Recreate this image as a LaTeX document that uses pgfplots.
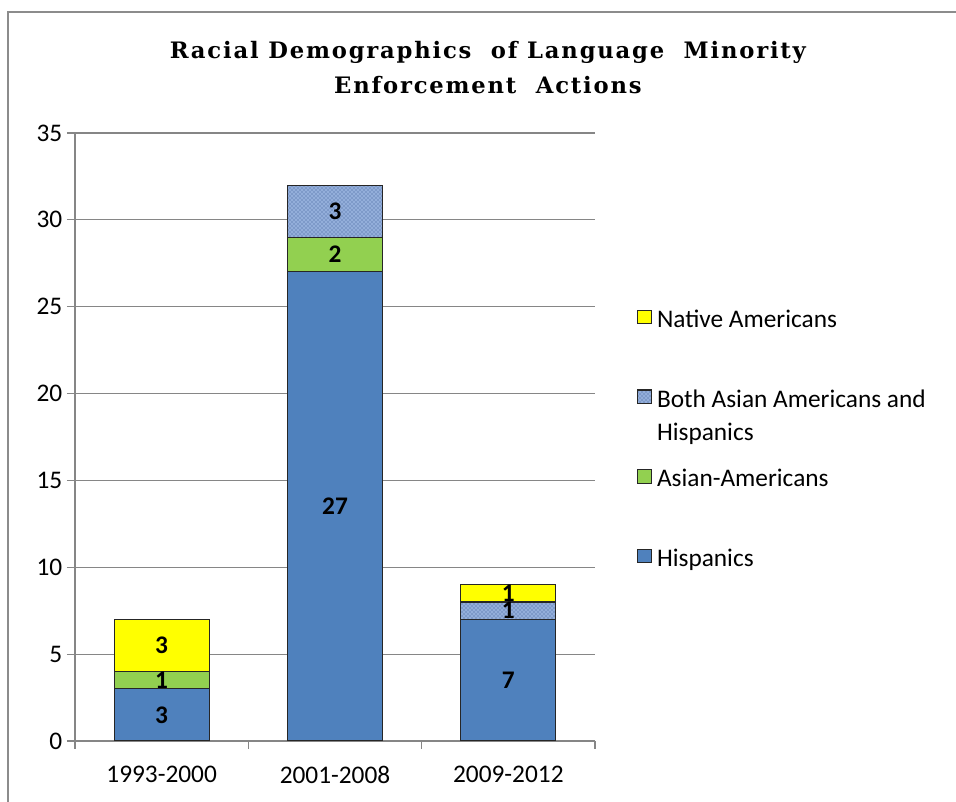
\documentclass[border=0pt]{standalone}
\usepackage{fontspec}
\setmainfont{Carlito}
\newfontfamily\titlefont[LetterSpace=8]{DejaVu Serif}
\usepackage{pgfplots}
\pgfplotsset{compat=1.18}
\usetikzlibrary{patterns}

\definecolor{hisp}{HTML}{4F81BD}
\definecolor{asian}{HTML}{92D050}
\definecolor{both}{HTML}{93AEDA}
\definecolor{bothdark}{HTML}{3A5A94}
\definecolor{native}{HTML}{FFFF00}
\definecolor{gridgray}{HTML}{868686}
\definecolor{framegray}{HTML}{8C8C8C}

\begin{document}
\begin{tikzpicture}
% page size: 956x802 px at 0.75pt per px, origin = lower left of plot area
\useasboundingbox (-56.25pt,-45.75pt) rectangle (660.75pt,555.75pt);
\draw[framegray, line width=1pt] (-50.25pt,-46pt) -- (-50.25pt,546.75pt) -- (661pt,546.75pt);

\begin{axis}[
  scale only axis,
  width=390pt, height=456pt,
  ybar stacked, bar width=71.25pt,
  xmin=-0.5, xmax=2.5, ymin=0, ymax=35,
  ytick={0,5,...,35},
  xtick={-0.5,0.5,1.5,2.5}, xticklabels={},
  extra x ticks={0,1,2},
  extra x tick labels={1993-2000,2001-2008,2009-2012},
  extra x tick style={major tick length=0pt, tick label style={yshift=-15.5pt}},
  axis x line*=bottom, axis y line*=left,
  tick align=outside, major tick length=6pt,
  axis line style={gridgray, line width=0.8pt},
  tick style={gridgray, line width=0.8pt},
  ymajorgrids=true,
  grid style={gridgray, line width=0.8pt},
  tick label style={font=\fontsize{19}{23}\selectfont},
  /pgf/number format/assume math mode=true,
  title={Racial Demographics\ \ of Language\ \ Minority\\Enforcement\ \ Actions},
  title style={font=\titlefont\bfseries\fontsize{17}{26}\selectfont, align=center,
    at={(axis description cs:0.794,1)}, anchor=south, yshift=20pt},
  visualization depends on=rawy \as \rawy,
  nodes near coords={\ifdim\rawy pt=0pt \else\pgfmathprintnumber{\rawy}\fi},
  nodes near coords style={font=\bfseries\fontsize{19}{23}\selectfont, black,
    anchor=center},
  reverse legend,
  legend cell align=left,
  legend image code/.code={\draw[#1, draw=black!85, line width=0.8pt] (0pt,-5pt) rectangle (10pt,5pt);},
  legend style={at={(axis description cs:1.0808,0.723)}, anchor=north west,
    draw=none, fill=none, inner sep=0pt, row sep=37pt, column sep=2pt,
    font=\fontsize{19}{24.75}\selectfont},
]
\addplot[fill=hisp, draw=black!85, line width=0.8pt]
  coordinates {(0,3) (1,27) (2,7)};
\addplot[fill=asian, draw=black!85, line width=0.8pt]
  coordinates {(0,1) (1,2) (2,0)};
\addplot[fill=both, draw=black!85, line width=0.8pt,
  postaction={pattern=crosshatch dots, pattern color=bothdark}]
  coordinates {(0,0) (1,3) (2,1)};
\addplot[fill=native, draw=black!85, line width=0.8pt]
  coordinates {(0,3) (1,0) (2,1)};
\legend{\strut Hispanics, \strut Asian-Americans,
  {\raisebox{0pt}[\ht\strutbox][\dp\strutbox]{\begin{tabular}[t]{@{}l@{}}Both Asian Americans and\\Hispanics\end{tabular}}},
  \strut Native Americans}
\end{axis}
\end{tikzpicture}
\end{document}
